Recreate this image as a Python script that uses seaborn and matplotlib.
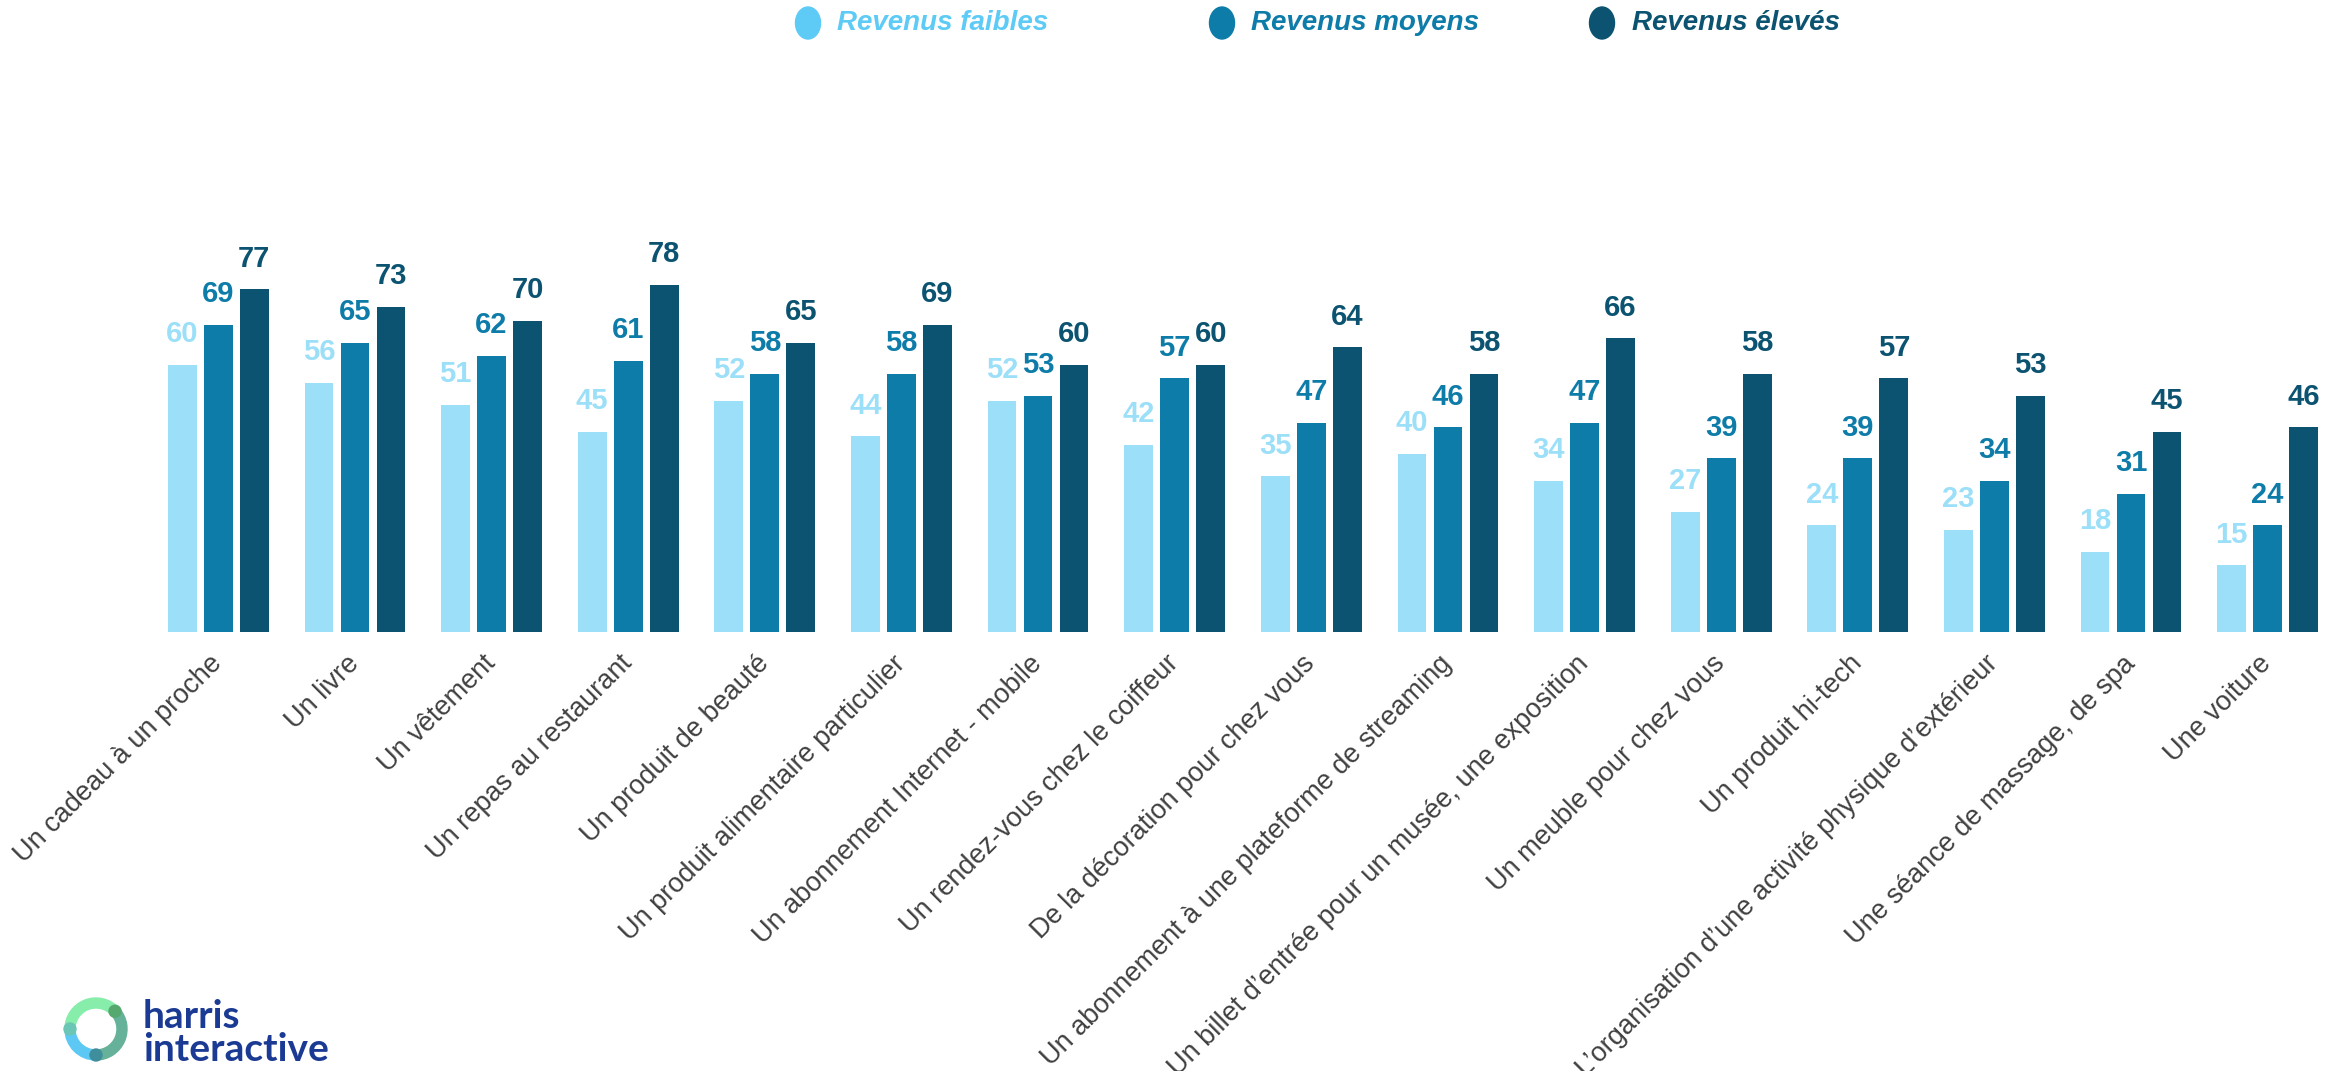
import numpy as np
import pandas as pd
import seaborn as sns
import matplotlib.pyplot as plt
from matplotlib.patches import Wedge, Circle, Ellipse

sns.set_style('white')
plt.rcParams['font.family'] = ['Liberation Sans', 'DejaVu Sans']

# data
categories = ["Un cadeau à un proche", "Un livre", "Un vêtement", "Un repas au restaurant",
              "Un produit de beauté", "Un produit alimentaire particulier",
              "Un abonnement Internet - mobile", "Un rendez-vous chez le coiffeur",
              "De la décoration pour chez vous", "Un abonnement à une plateforme de streaming",
              "Un billet d’entrée pour un musée, une exposition", "Un meuble pour chez vous",
              "Un produit hi-tech", "L’organisation d’une activité physique d’extérieur",
              "Une séance de massage, de spa", "Une voiture"]
series = ["Revenus faibles", "Revenus moyens", "Revenus élevés"]
faibles = [60, 56, 51, 45, 52, 44, 52, 42, 35, 40, 34, 27, 24, 23, 18, 15]
moyens = [69, 65, 62, 61, 58, 58, 53, 57, 47, 46, 47, 39, 39, 34, 31, 24]
eleves = [77, 73, 70, 78, 65, 69, 60, 60, 64, 58, 66, 58, 57, 53, 45, 46]

bar_colors = ['#9CDFF8', '#0E7CA8', '#0B5370']
legend_colors = ['#5DCBF5', '#0E7CA8', '#0B5370']

df = pd.DataFrame({
    'cat': categories * 3,
    'val': faibles + moyens + eleves,
    'rev': [series[0]] * 16 + [series[1]] * 16 + [series[2]] * 16,
})

W, H = 2343, 1071
fig = plt.figure(figsize=(W / 100, H / 100), dpi=100)
ax = fig.add_axes([150 / W, (H - 632) / H, 2186 / W, 445 / H])

sns.barplot(data=df, x='cat', y='val', hue='rev', hue_order=series, palette=bar_colors,
            saturation=1, width=0.79, gap=0.2, legend=False, ax=ax, linewidth=0)

for cont, col in zip(ax.containers, bar_colors):
    ax.bar_label(cont, fmt='%d', padding=12, color=col, fontsize=21, fontweight='bold')

ax.set_ylim(0, 100)
ax.set_xlim(-0.5, 15.5)
ax.set_yticks([])
ax.set_xlabel('')
ax.set_ylabel('')
ax.set_xticks(range(len(categories)))
ax.set_xticklabels(categories, rotation=45, ha='right', va='center', rotation_mode='anchor',
                   fontsize=19.5, color='#404040')
ax.tick_params(axis='x', length=0, pad=20)
sns.despine(ax=ax, left=True, bottom=True)

# overlay in pixel coordinates (y down) for legend and logo
ov = fig.add_axes([0, 0, 1, 1])
ov.set_xlim(0, W)
ov.set_ylim(H, 0)
ov.axis('off')

leg_marker_x = [808, 1222, 1602]
leg_text_x = [837, 1251, 1632]
for name, col, mx, tx in zip(series, legend_colors, leg_marker_x, leg_text_x):
    ov.add_patch(Ellipse((mx, 23), 25, 32, color=col))
    ov.text(tx, 23, name, color=col, fontsize=20, fontweight='bold', fontstyle='italic',
            va='center', ha='left')

# harris interactive logo (angles flipped because y points down)
cx, cy, r = 96, 1029, 31
ov.add_patch(Wedge((cx, cy), r, -180, -43, width=10, color='#86EDAA'))
ov.add_patch(Wedge((cx, cy), r, -43, 90, width=10, color='#66B199'))
ov.add_patch(Wedge((cx, cy), r, 90, 180, width=10, color='#5EC8F5'))
for ang, col in [(-43, '#55A96F'), (180, '#6BC6B5'), (90, '#3E8E9C')]:
    a = np.deg2rad(ang)
    ov.add_patch(Circle((cx + (r - 5) * np.cos(a), cy + (r - 5) * np.sin(a)), 6, color=col))
ov.text(143, 1028, 'harris', color='#1B3A93', fontsize=28, fontweight='bold',
        family=['Lato', 'DejaVu Sans'], va='baseline', ha='left')
ov.text(143, 1061, 'interactive', color='#1B3A93', fontsize=28, fontweight='bold',
        family=['Lato', 'DejaVu Sans'], va='baseline', ha='left')

fig.savefig('out.png', dpi=100)
